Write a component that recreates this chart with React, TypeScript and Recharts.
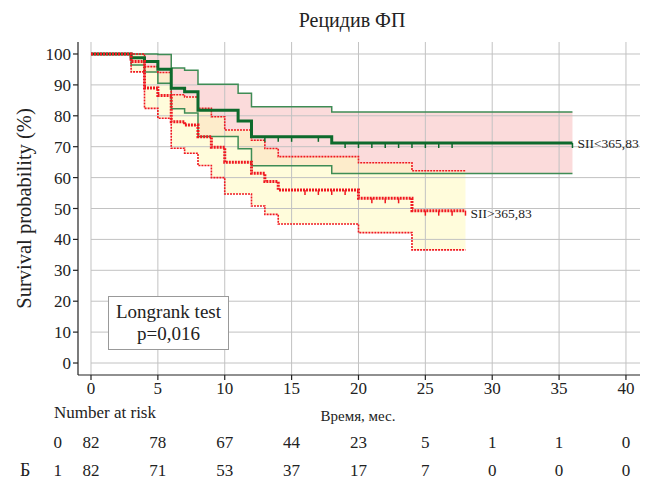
import React from 'react';
import {
  ComposedChart,
  Line,
  Area,
  Scatter,
  XAxis,
  YAxis,
  ReferenceLine,
  ReferenceDot,
} from 'recharts';

const FONT = "'Liberation Serif', 'DejaVu Serif', serif";

const xTicks = [0, 5, 10, 15, 20, 25, 30, 35, 40];
const yTicks = [0, 10, 20, 30, 40, 50, 60, 70, 80, 90, 100];
const X_MIN = -0.972;
const X_MAX = 41.05;
const Y_MIN = -3.88;
const Y_MAX = 103.88;

// Group 0 : SII<365,83 (green)
const g0Times = [0, 3, 4, 5, 6, 7, 8, 11, 12, 18, 36];
const g0Surv = [100, 98.8, 97.6, 95.1, 88.9, 87.8, 81.8, 78.3, 73.2, 71.2, 71.2];
const g0Upper = [100, 100, 100, 99.8, 95.5, 94.7, 90.2, 87.3, 82.9, 81.2, 81.2];
const g0Lower = [100, 96.4, 94.2, 90.5, 82.3, 80.9, 73.3, 69.3, 63.8, 61.3, 61.3];
const g0Censor = [13, 14, 15, 17, 19, 20, 21, 22, 23, 24, 25, 26, 27, 36];

// Group 1 : SII>365,83 (red)
const g1Times = [0, 3, 4, 5, 6, 7, 8, 9, 10, 12, 13, 14, 20, 24, 28];
const g1Surv = [100, 97.6, 89.0, 86.6, 78.1, 77.0, 73.2, 69.8, 65.0, 61.4, 58.7, 56.0, 53.3, 49.3, 49.3];
const g1Upper = [100, 100, 95.9, 94.0, 86.8, 86.1, 82.4, 79.7, 75.4, 72.1, 69.4, 66.8, 64.8, 62.2, 62.2];
const g1Lower = [100, 94.2, 82.4, 79.2, 69.5, 67.9, 63.9, 60.0, 54.7, 50.8, 48.1, 45.0, 42.2, 36.6, 36.6];
const g1Censor = [16, 17, 18, 19, 21, 22, 23, 25, 26, 27, 28];

// Number at risk
const riskTimes = [0, 5, 10, 15, 20, 25, 30, 35, 40];
const risk0 = [82, 78, 67, 44, 23, 5, 1, 1, 0];
const risk1 = [82, 71, 53, 37, 17, 7, 0, 0, 0];
const riskRows = [0, 1];

const GREEN = '#0d6a2c';
const GREEN_CI = '#3f8c55';
const RED = '#f01820';
const GRID = '#c2c2c2';

const series = (times: number[], vals: number[]) => times.map((t, i) => ({ t, v: vals[i] }));
const band = (times: number[], lo: number[], hi: number[]) =>
  times.map((t, i) => ({ t, range: [lo[i], hi[i]] }));
const stepValue = (times: number[], vals: number[], t: number) => {
  let v = vals[0];
  for (let i = 0; i < times.length; i++) if (times[i] <= t) v = vals[i];
  return v;
};
const censor = (times: number[], vals: number[], cs: number[]) =>
  cs.map((t) => ({ t, v: stepValue(times, vals, t) }));

const tickShape = (color: string) => (p: any) => (
  <line x1={p.cx} y1={p.cy} x2={p.cx} y2={p.cy + 5} stroke={color} strokeWidth={1.5} />
);

const riskData = riskRows.flatMap((r) =>
  riskTimes.map((t, i) => ({ t, row: r, n: r === 0 ? risk0[i] : risk1[i] }))
);

const riskText = (p: any) => (
  <text
    x={p.cx}
    y={p.cy}
    textAnchor="middle"
    dominantBaseline="central"
    fontSize={17}
    fontFamily={FONT}
    fill="#222"
  >
    {p.payload.n}
  </text>
);

export default function App() {
  const tickStyle = { fontSize: 17, fontFamily: FONT, fill: '#222' };
  return (
    <div
      style={{
        position: 'absolute',
        left: 0,
        top: 0,
        width: 646,
        height: 484,
        background: '#fff',
        fontFamily: FONT,
        color: '#222',
        overflow: 'hidden',
      }}
    >
      <div style={{ position: 'absolute', left: 0, top: 0 }}>
        <ComposedChart width={646} height={410} margin={{ top: 42, right: 6, bottom: 10, left: 18 }}>
          <XAxis
            type="number"
            dataKey="t"
            domain={[X_MIN, X_MAX]}
            ticks={xTicks}
            interval={0}
            allowDataOverflow
            height={25}
            tickSize={5}
            tick={tickStyle}
            axisLine={{ stroke: '#222', strokeWidth: 1.2 }}
            tickLine={{ stroke: '#222', strokeWidth: 1.2 }}
          />
          <YAxis
            type="number"
            domain={[Y_MIN, Y_MAX]}
            ticks={yTicks}
            interval={0}
            allowDataOverflow
            width={60}
            tickSize={5}
            tick={tickStyle}
            axisLine={{ stroke: '#222', strokeWidth: 1.2 }}
            tickLine={{ stroke: '#222', strokeWidth: 1.2 }}
            label={{
              value: 'Survival probability (%)',
              angle: -90,
              position: 'insideLeft',
              offset: 6,
              style: { textAnchor: 'middle', fontSize: 20.5, fontFamily: FONT, fill: '#222' },
            }}
          />
          {yTicks.map((v) => (
            <ReferenceLine
              key={'h' + v}
              segment={[
                { x: 0, y: v },
                { x: X_MAX, y: v },
              ]}
              stroke={GRID}
              strokeWidth={1}
            />
          ))}
          {xTicks.map((v) => (
            <ReferenceLine key={'v' + v} x={v} stroke={GRID} strokeWidth={1} />
          ))}
          <Area
            data={band(g0Times, g0Lower, g0Upper)}
            dataKey="range"
            type="stepAfter"
            stroke="none"
            fill="rgb(240,115,115)"
            fillOpacity={0.26}
            dot={false}
            activeDot={false}
            isAnimationActive={false}
          />
          <Area
            data={band(g1Times, g1Lower, g1Upper)}
            dataKey="range"
            type="stepAfter"
            stroke="none"
            fill="rgb(255,250,190)"
            fillOpacity={0.55}
            dot={false}
            activeDot={false}
            isAnimationActive={false}
          />
          <Line data={series(g0Times, g0Upper)} dataKey="v" type="stepAfter" stroke={GREEN_CI} strokeWidth={1.5} dot={false} activeDot={false} isAnimationActive={false} />
          <Line data={series(g0Times, g0Lower)} dataKey="v" type="stepAfter" stroke={GREEN_CI} strokeWidth={1.5} dot={false} activeDot={false} isAnimationActive={false} />
          <Line data={series(g1Times, g1Upper)} dataKey="v" type="stepAfter" stroke={RED} strokeWidth={1.6} strokeDasharray="2 1" dot={false} activeDot={false} isAnimationActive={false} />
          <Line data={series(g1Times, g1Lower)} dataKey="v" type="stepAfter" stroke={RED} strokeWidth={1.6} strokeDasharray="2 1" dot={false} activeDot={false} isAnimationActive={false} />
          <Line data={series(g0Times, g0Surv)} dataKey="v" type="stepAfter" stroke={GREEN} strokeWidth={3} dot={false} activeDot={false} isAnimationActive={false} />
          <Line data={series(g1Times, g1Surv)} dataKey="v" type="stepAfter" stroke={RED} strokeWidth={3} strokeDasharray="2 1" dot={false} activeDot={false} isAnimationActive={false} />
          <Scatter data={censor(g0Times, g0Surv, g0Censor)} dataKey="v" shape={tickShape(GREEN)} isAnimationActive={false} />
          <Scatter data={censor(g1Times, g1Surv, g1Censor)} dataKey="v" shape={tickShape(RED)} isAnimationActive={false} />
          <ReferenceDot
            x={g0Times[g0Times.length - 1]}
            y={g0Surv[g0Surv.length - 1]}
            r={1}
            fill="none"
            stroke="none"
            label={{ value: 'SII<365,83', position: 'right', offset: 4, fontSize: 13.5, fontFamily: FONT, fill: '#222' }}
          />
          <ReferenceDot
            x={g1Times[g1Times.length - 1]}
            y={g1Surv[g1Surv.length - 1] - 0.8}
            r={1}
            fill="none"
            stroke="none"
            label={{ value: 'SII>365,83', position: 'right', offset: 4, fontSize: 13.5, fontFamily: FONT, fill: '#222' }}
          />
        </ComposedChart>
      </div>

      <div style={{ position: 'absolute', left: 0, top: 428 }}>
        <ComposedChart width={646} height={56} margin={{ top: 0, right: 6, bottom: 0, left: 18 }}>
          <XAxis type="number" dataKey="t" domain={[X_MIN, X_MAX]} hide allowDataOverflow />
          <YAxis
            type="number"
            dataKey="row"
            domain={[-0.5, 1.5]}
            ticks={riskRows}
            reversed
            width={60}
            axisLine={false}
            tickLine={false}
            tickSize={0}
            tickMargin={16}
            tick={{ fontSize: 17, fontFamily: FONT, fill: '#222' }}
          />
          <Scatter data={riskData} dataKey="row" shape={riskText} isAnimationActive={false} />
        </ComposedChart>
      </div>

      <div style={{ position: 'absolute', left: 252, width: 200, top: 9, textAlign: 'center', fontSize: 20, lineHeight: '22px' }}>
        Рецидив ФП
      </div>
      <div style={{ position: 'absolute', left: 54, top: 403, fontSize: 17, lineHeight: '20px' }}>Number at risk</div>
      <div style={{ position: 'absolute', left: 258, width: 200, top: 407, textAlign: 'center', fontSize: 15, lineHeight: '18px' }}>
        Время, мес.
      </div>
      <div style={{ position: 'absolute', left: 20, top: 459, fontSize: 18, lineHeight: '22px' }}>Б</div>
      <div
        style={{
          position: 'absolute',
          left: 108,
          top: 296,
          width: 121,
          height: 54,
          border: '1px solid #999',
          background: '#fff',
          textAlign: 'center',
          fontSize: 19,
          lineHeight: '22px',
          paddingTop: 4,
          boxSizing: 'border-box',
        }}
      >
        Longrank test
        <br />
        p=0,016
      </div>
    </div>
  );
}
